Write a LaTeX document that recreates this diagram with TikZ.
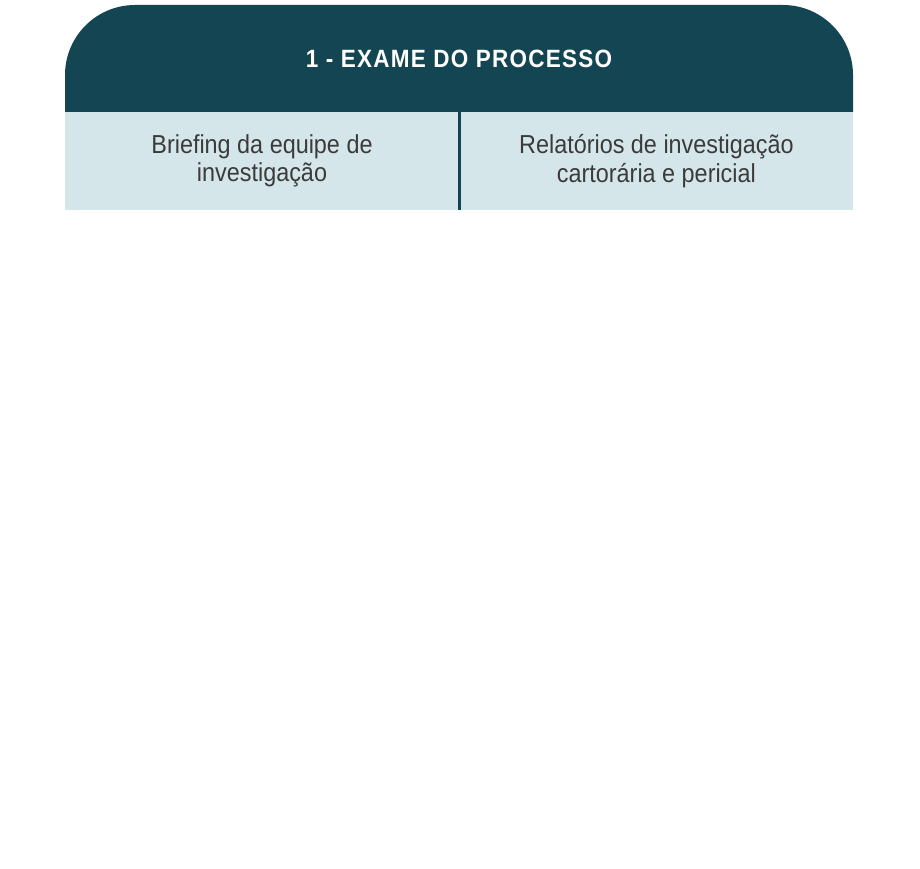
\documentclass[tikz,border=0pt]{standalone}
\usepackage{fontspec}
\setmainfont[FakeStretch=0.9]{Liberation Sans}
\newfontfamily\titlefont[FakeStretch=0.9,LetterSpace=5]{Liberation Sans}
\usetikzlibrary{positioning}

\definecolor{headteal}{HTML}{144552}
\definecolor{cellblue}{HTML}{D5E6EB}
\definecolor{cellgray}{HTML}{3B3B3B}

\begin{document}
\begin{tikzpicture}[x=1pt, y=1pt,
  cell/.style = {fill=cellblue, minimum width=394pt, minimum height=98pt,
    inner sep=0pt, align=center, text=cellgray,
    font=\fontsize{26}{28.5}\selectfont},
  title/.style = {text=white, font=\titlefont\bfseries\fontsize{25}{28}\selectfont},
  divider/.style = {draw=headteal, line width=3pt}]
  \useasboundingbox (0,0) rectangle (920,-869);
  % header with rounded top
  \fill[headteal] (65,-112) -- (65,-75) arc[start angle=180, end angle=90, radius=70]
    -- (783,-5) arc[start angle=90, end angle=0, radius=70] -- (853,-112) -- cycle;
  \node[title] (head) at (459,-59) {1 - EXAME DO PROCESSO};
  % two cells below
  \node[cell] (brief) at (262,-161) {Briefing da equipe de\\investigação};
  \node[cell, right=0pt of brief] (relat) {Relatórios de investigação\\cartorária e pericial};
  \draw[divider] (brief.north east) -- (brief.south east);
\end{tikzpicture}
\end{document}
